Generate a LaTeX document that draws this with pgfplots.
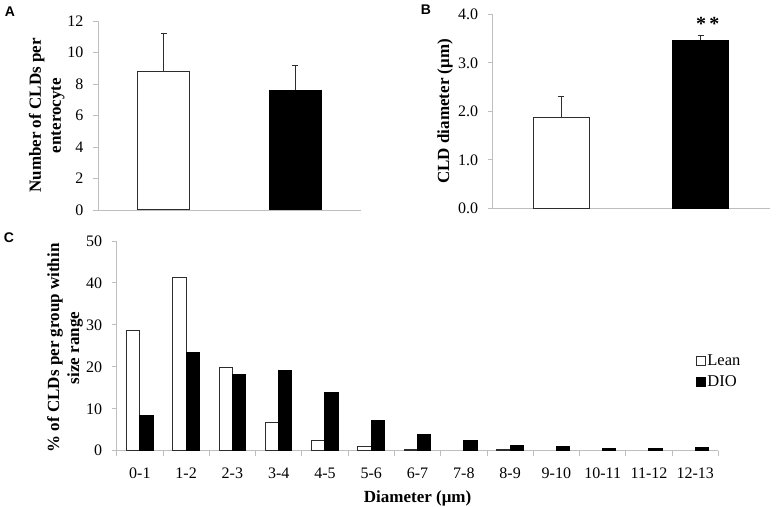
\documentclass[border=0pt]{standalone}
\usepackage{fontspec}
\setmainfont{Liberation Serif}
\setsansfont{Liberation Sans}
\usepackage{pgfplots}
\pgfplotsset{compat=1.18}
\definecolor{axgray}{RGB}{190,190,190}
\definecolor{edge}{RGB}{45,45,45}
\pgfplotsset{
  panel/.style={
    scale only axis,
    axis lines=left,
    axis line style={-, draw=axgray, line width=0.9pt},
    tick style={draw=axgray, line width=0.9pt},
    tick align=outside,
    major tick length=5pt,
    enlargelimits=false,
    font=\fontsize{16}{19}\selectfont\rmfamily,
    /pgf/number format/assume math mode=true,
    tick label style={font=\fontsize{16}{19}\selectfont\rmfamily},
    yticklabel style={xshift=-6pt},
    xticklabel style={yshift=-9pt},
    label style={font=\fontsize{17}{20}\selectfont\rmfamily\bfseries},
    ylabel style={align=center},
    clip=false,
    anchor=south west,
  },
  errs/.style={error bars/.cd, y dir=plus, y explicit,
    error bar style={draw=edge, line width=0.7pt},
    error mark options={rotate=90, mark size=3pt, draw=edge, line width=0.7pt}},
}
\begin{document}
\begin{tikzpicture}
\path[use as bounding box] (0pt,0pt) rectangle (778pt,506pt);
% Panel A
\begin{axis}[panel, at={(98pt,296pt)}, width=263pt, height=189pt,
  xmin=0.5, xmax=2.5, ymin=0, ymax=12, ytick={0,2,...,12}, xtick=\empty,
  ylabel={Number of CLDs per\\enterocyte},
  ylabel style={at={(axis description cs:-0.195,0.5)}, anchor=center}]
\addplot[ybar, bar width=0.394, bar shift=0, fill=white, draw=edge, line width=1pt, errs]
  coordinates {(1,8.8) +- (0,2.4)};
\addplot[ybar, bar width=0.394, bar shift=0, fill=black, draw=black, line width=1pt, errs]
  coordinates {(2,7.6) +- (0,1.6)};
\end{axis}
% Panel B
\begin{axis}[panel, at={(492.7pt,297.7pt)}, width=277.3pt, height=194pt,
  xmin=0.508, xmax=2.496, ymin=0, ymax=4, ytick={0,1,...,4}, xtick=\empty,
  yticklabel style={/pgf/number format/.cd, fixed, fixed zerofill, precision=1},
  ylabel={CLD diameter (μm)},
  ylabel style={at={(axis description cs:-0.172,0.5)}, anchor=center}]
\addplot[ybar, bar width=0.40, bar shift=0, fill=white, draw=edge, line width=1pt, errs]
  coordinates {(1,1.88) +- (0,0.42)};
\addplot[ybar, bar width=0.40, bar shift=0, fill=black, draw=black, line width=1pt, errs]
  coordinates {(2,3.46) +- (0,0.10)};
\node[anchor=base, font=\fontsize{20}{22}\selectfont\rmfamily\bfseries] at (axis cs:2.05,3.66) {*\,*};
\end{axis}
% Panel C
\begin{axis}[panel, at={(116.7pt,55.3pt)}, width=601.7pt, height=209.7pt,
  xmin=-0.5, xmax=12.5, ymin=0, ymax=50, ytick={0,10,...,50},
  xtick={-0.5,0.5,...,12.5}, xticklabels={},
  extra x ticks={0,1,...,12},
  extra x tick labels={0-1,1-2,2-3,3-4,4-5,5-6,6-7,7-8,8-9,9-10,10-11,11-12,12-13},
  extra x tick style={tick style={draw=none}},
  xlabel={Diameter (μm)},
  ylabel={\% of CLDs per group within\\size range},
  ylabel style={at={(axis description cs:-0.086,0.49)}, anchor=center},
  legend style={at={(axis description cs:0.961,0.378)}, anchor=west, draw=none, fill=none,
    font=\fontsize{16.5}{19}\selectfont\rmfamily, row sep=5pt, inner sep=1pt},
  legend cell align=left,
  legend image code/.code={\draw[#1, line width=0.8pt] (0pt,-4.2pt) rectangle (8.4pt,4.2pt);}]
\addplot[ybar, bar width=0.287, bar shift=-0.1435, fill=white, draw=edge, line width=1pt]
  coordinates {(0,28.6) (1,41.3) (2,19.8) (3,6.7) (4,2.5) (5,0.95) (6,0.4) (8,0.2)};
\addlegendentry{Lean}
\addplot[ybar, bar width=0.287, bar shift=0.1435, fill=black, draw=black, line width=1pt]
  coordinates {(0,8.4) (1,23.5) (2,18.1) (3,19.2) (4,13.9) (5,7.2) (6,3.9) (7,2.5) (8,1.2) (9,0.9) (10,0.6) (11,0.6) (12,0.7)};
\addlegendentry{DIO}
\end{axis}
\node[font=\fontsize{14}{16}\selectfont\sffamily\bfseries] at (10pt,494pt) {A};
\node[font=\fontsize{14}{16}\selectfont\sffamily\bfseries] at (426pt,496pt) {B};
\node[font=\fontsize{14}{16}\selectfont\sffamily\bfseries] at (9pt,268.5pt) {C};
\end{tikzpicture}
\end{document}
